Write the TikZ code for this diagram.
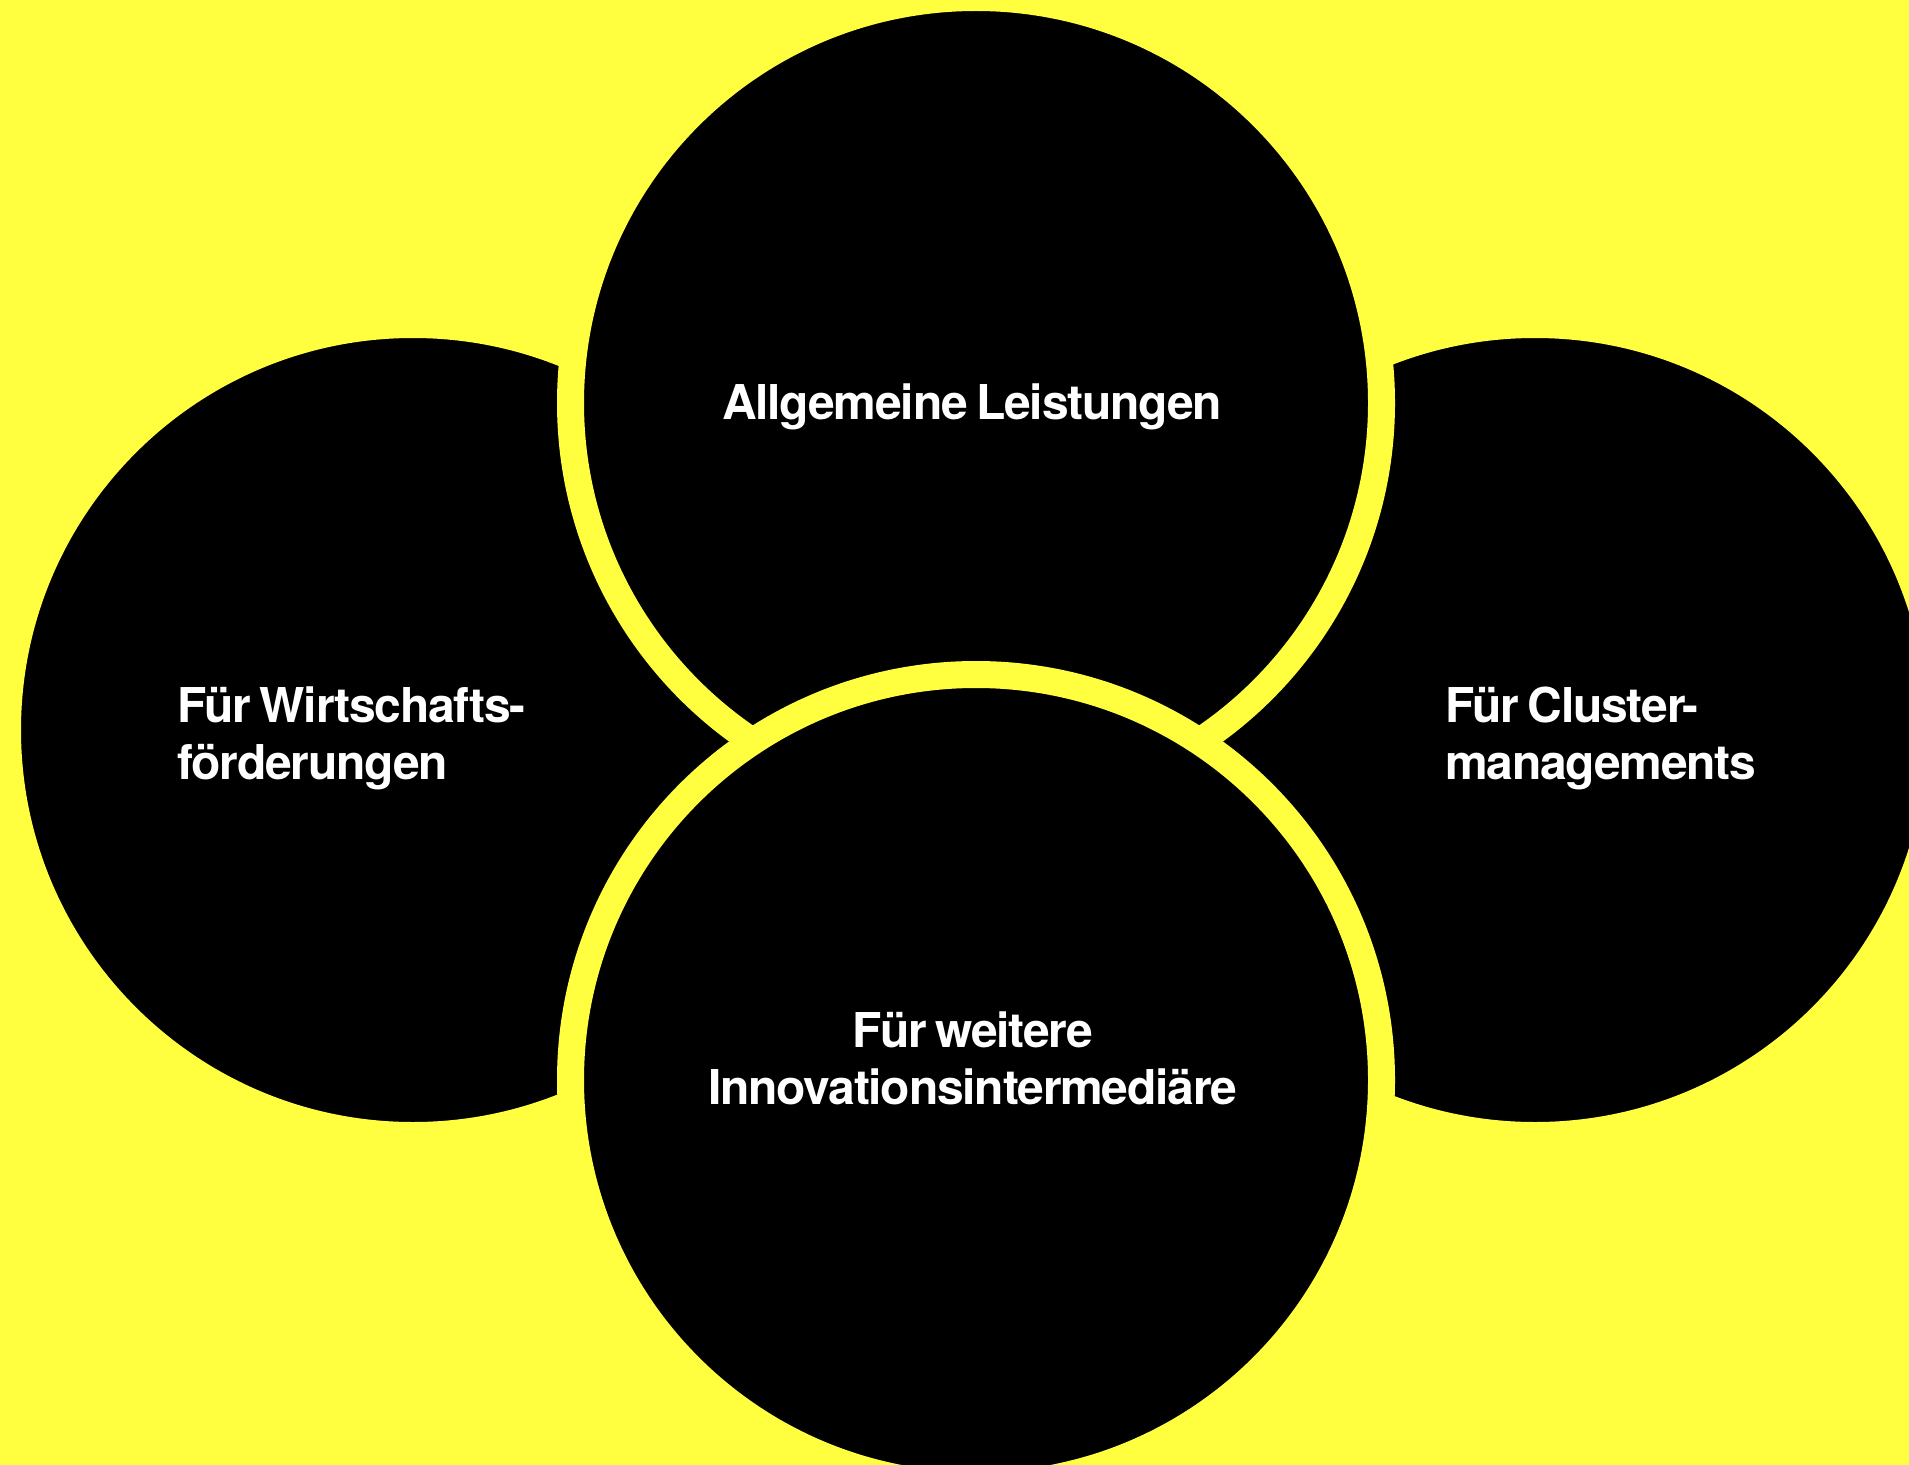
\documentclass[tikz,border=0pt]{standalone}
\usepackage{fontspec}
\setmainfont{TeX Gyre Heros}[LetterSpace=-2.5, WordSpace=0.7]
\definecolor{bgyellow}{HTML}{FFFF40}
\begin{document}
\begin{tikzpicture}[x=0.5pt,y=-0.5pt,
  disc/.style={circle, fill=black, draw=bgyellow, line width=13.5pt, minimum size=405.5pt, inner sep=0pt, outer sep=0pt},
  lbl/.style={text=white, font=\bfseries\fontsize{24pt}{28.5pt}\selectfont, inner sep=0pt, outer sep=0pt}]
\useasboundingbox (0,0) rectangle (1909,1465);
\clip (0,0) rectangle (1909,1465);
\fill[bgyellow] (0,0) rectangle (1909,1465);
\node[disc] (cl) at (413,730) {};
\node[disc] (cr) at (1535,730) {};
\node[disc] (ct) at (976,403) {};
\node[disc] (cb) at (976,1080) {};
\node[lbl, anchor=base] (tt) at (972,419) {Allgemeine Leistungen};
\node[lbl, anchor=base west, align=left] (tl) at (177,779) {Für Wirtschafts-\\förderungen};
\node[lbl, anchor=base west, align=left] (tr) at (1445,779) {Für Cluster-\\managements};
\node[lbl, anchor=base, align=center] (tb) at (973,1104) {Für weitere\\Innovationsintermediäre};
\end{tikzpicture}
\end{document}
